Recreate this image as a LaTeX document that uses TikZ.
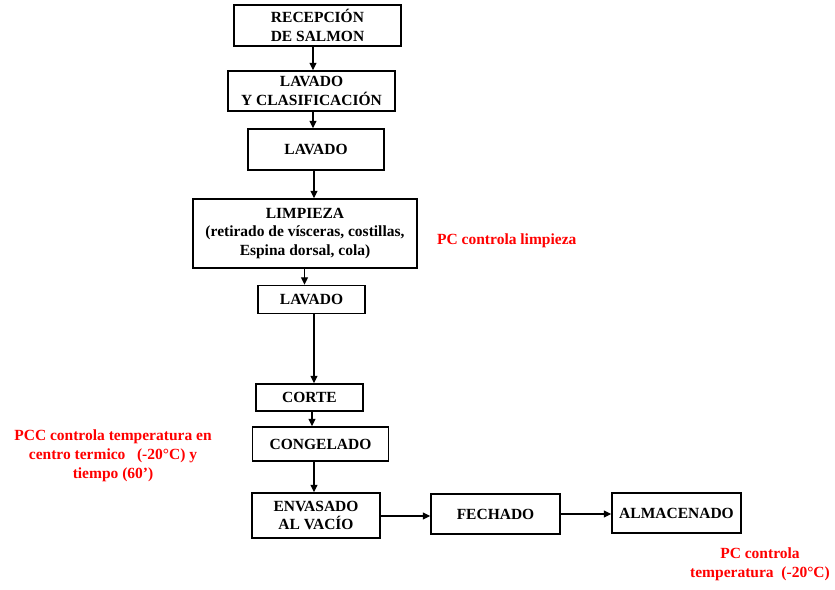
\documentclass[tikz,border=0pt]{standalone}
\usepackage{fontspec}
\setmainfont{Liberation Serif}
\usetikzlibrary{arrows.meta}
\begin{document}
\begin{tikzpicture}[x=1pt,y=-1pt,
  box/.style={draw=black,line width=1.4pt,inner sep=0pt,align=center,
    font=\fontsize{15.5}{18.5}\selectfont\bfseries},
  arr/.style={line width=1.3pt,-{Triangle[length=7.5pt,width=7pt]}},
  note/.style={text=red,align=center,inner sep=0pt,
    font=\fontsize{15.5}{19}\selectfont\bfseries}]
\useasboundingbox (0,0) rectangle (835,589);
\node[box,minimum width=167,minimum height=41] (n1) at (317.5,25.5) {RECEPCIÓN\\DE SALMON};
\node[box,minimum width=167,minimum height=40] (n2) at (311.5,91) {LAVADO\\Y CLASIFICACIÓN};
\node[box,minimum width=136,minimum height=41] (n3) at (316,149.5) {LAVADO};
\node[box,minimum width=224,minimum height=69] (n4) at (305,233.5) {LIMPIEZA\\(retirado de vísceras, costillas,\\Espina dorsal, cola)};
\node[box,minimum width=107,minimum height=28] (n5) at (311.5,299.5) {LAVADO};
\node[box,minimum width=107,minimum height=27] (n6) at (309.5,397.5) {CORTE};
\node[box,minimum width=136,minimum height=34] (n7) at (320.5,444) {CONGELADO};
\node[box,minimum width=128,minimum height=45] (n8) at (316,515.5) {ENVASADO\\AL VACÍO};
\node[box,minimum width=129,minimum height=40] (n9) at (495.5,514) {FECHADO};
\node[box,minimum width=129,minimum height=40] (n10) at (676.5,513) {ALMACENADO};
\coordinate (c1) at (313,0);
\coordinate (c2) at (313,0);
\coordinate (c3) at (314,0);
\coordinate (c4) at (304.5,0);
\coordinate (c5) at (314,0);
\coordinate (c6) at (312,0);
\coordinate (c7) at (314,0);
\draw[arr] (n1.south -| c1) -- (n2.north -| c1);
\draw[arr] (n2.south -| c2) -- (n3.north -| c2);
\draw[arr] (n3.south -| c3) -- (n4.north -| c3);
\draw[arr] (n4.south -| c4) -- (n5.north -| c4);
\draw[arr] (n5.south -| c5) -- (n6.north -| c5);
\draw[arr] (n6.south -| c6) -- (n7.north -| c6);
\draw[arr] (n7.south -| c7) -- (n8.north -| c7);
\coordinate (r1) at (0,516);
\coordinate (r2) at (0,514);
\draw[arr] (n8.east |- r1) -- (n9.west |- r1);
\draw[arr] (n9.east |- r2) -- (n10.west |- r2);
\node[note,anchor=west] (t1) at (437,241) {PC controla limpieza};
\node[note] (t2) at (113,455.5) {PCC controla temperatura en\\centro termico \ \ (-20°C) y\\tiempo (60’)};
\node[note] (t3) at (760,564) {PC controla\\temperatura \ (-20°C)};
\end{tikzpicture}
\end{document}
